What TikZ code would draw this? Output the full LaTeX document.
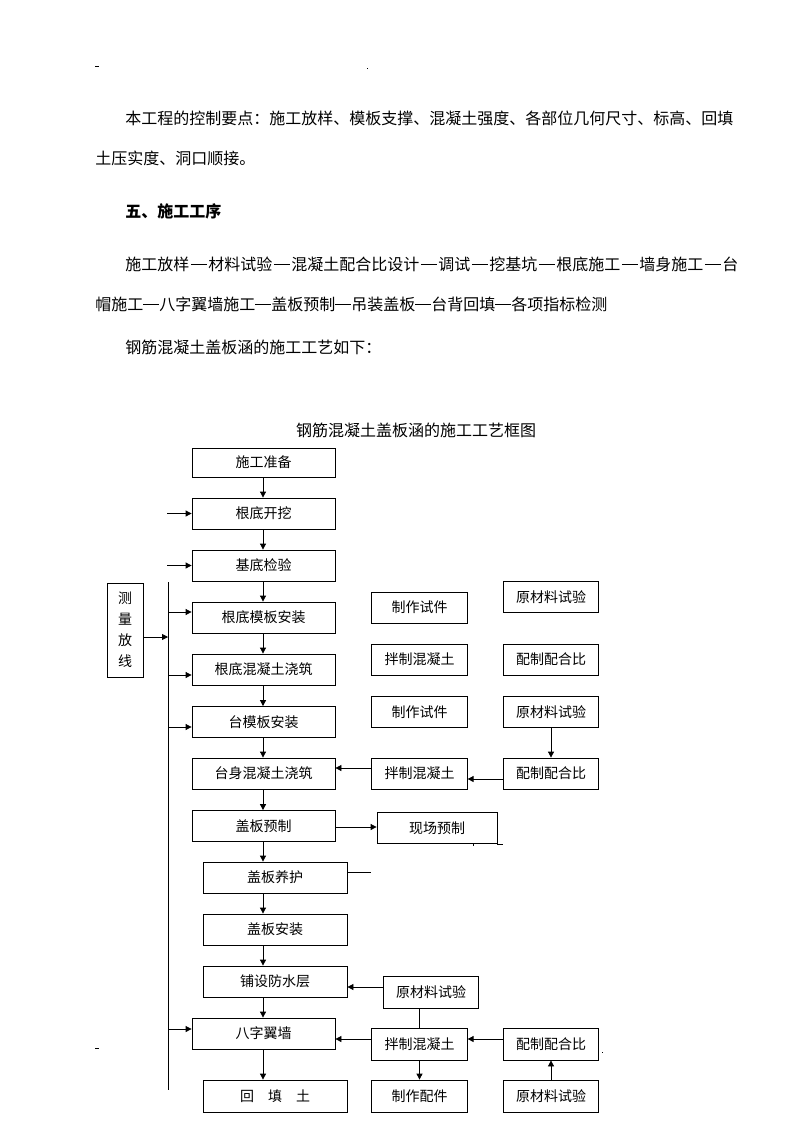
\documentclass[tikz,border=0pt]{standalone}
\usepackage{fontspec}
\setmainfont{Noto Sans CJK SC}
\usetikzlibrary{arrows.meta,positioning,calc}

\newcommand\zdash{\rule[0.33em]{1em}{0.055em}}

\tikzset{
  box/.style={draw, line width=0.6pt, inner sep=0pt, minimum height=23.25pt,
    font=\fontsize{10.5pt}{12pt}\selectfont},
  wide/.style={box, minimum width=107.25pt},
  shifted/.style={box, minimum width=108pt},
  side/.style={box, minimum width=71.6pt},
  flow/.style={-{Triangle[length=4.5pt,width=4.5pt]}, line width=0.6pt},
  plain/.style={line width=0.6pt},
  body/.style={anchor=west, inner sep=0pt, font=\fontsize{12pt}{14pt}\selectfont},
}

\begin{document}
\begin{tikzpicture}[x=0.75pt,y=-0.75pt]
        \useasboundingbox (0,0) rectangle (794,1123);

        % page marks
        \draw[plain] (95,66) -- (99,66);
        \draw[plain] (367,68) -- (368,68);
        \draw[plain] (95,1048) -- (99,1048);
        \draw[plain] (602,1052) -- (603,1052);

        % body text
        \node[body] (p1) at (125,118) {本工程的控制要点：施工放样、模板支撑、混凝土强度、各部位几何尺寸、标高、回填};
        \node[body] (p2) at (95,158) {土压实度、洞口顺接。};
        \node[body, font=\fontsize{12pt}{14pt}\selectfont\bfseries] (h5) at (125,211) {五、施工工序};
        \node[body] (p3) at (125,264) {\hbox to 459.75pt{施工放样\hfil\zdash\hfil 材料试验\hfil\zdash\hfil 混凝土配合比设计\hfil\zdash\hfil 调试\hfil\zdash\hfil 挖基坑\hfil\zdash\hfil 根底施工\hfil\zdash\hfil 墙身施工\hfil\zdash\hfil 台}};
        \node[body] (p4) at (95,304) {帽施工\zdash 八字翼墙施工\zdash 盖板预制\zdash 吊装盖板\zdash 台背回填\zdash 各项指标检测};
        \node[body] (p5) at (125,347) {钢筋混凝土盖板涵的施工工艺如下：};
        \node[inner sep=0pt, font=\fontsize{12pt}{14pt}\selectfont] (title) at (416,430) {钢筋混凝土盖板涵的施工工艺框图};

        % main column
        \node[wide, minimum height=21.75pt] (zb) at (263.5,462.5) {施工准备};
        \node[wide] (kw) at (263.5,513.5) {根底开挖};
        \node[wide] (jy) at (263.5,565.5) {基底检验};
        \node[wide] (mb) at (263.5,617.5) {根底模板安装};
        \node[wide] (gj) at (263.5,669.5) {根底混凝土浇筑};
        \node[wide] (tm) at (263.5,722) {台模板安装};
        \node[wide] (ts) at (263.5,773.5) {台身混凝土浇筑};
        \node[wide] (yz) at (263.5,826) {盖板预制};
        \node[shifted] (yh) at (275,877.5) {盖板养护};
        \node[shifted] (az) at (275,929.5) {盖板安装};
        \node[shifted] (fs) at (275,981.5) {铺设防水层};
        \node[wide] (yq) at (263.5,1033.5) {八字翼墙};
        \node[shifted, minimum height=24pt] (ht) at (275,1096) {回　填　土};

        % survey box
        \node[box, minimum width=27pt, minimum height=70.5pt, align=center,
              font=\fontsize{10.5pt}{15.75pt}\selectfont] (cl) at (125,630) {测\\量\\放\\线};

        % side columns
        \node[side] (sj1) at (419.5,607.5) {制作试件};
        \node[side] (ycl1) at (551,597) {原材料试验};
        \node[side] (bz1) at (419.5,659.5) {拌制混凝土};
        \node[side] (pb1) at (551,659.5) {配制配合比};
        \node[side] (sj2) at (419.5,712) {制作试件};
        \node[side] (ycl2) at (551,712) {原材料试验};
        \node[side] (bz2) at (419.5,773.5) {拌制混凝土};
        \node[side] (pb2) at (551,773.5) {配制配合比};
        \node[box, minimum width=90pt] (xc) at (437,828) {现场预制};
        \node[side, minimum height=24pt] (ycl3) at (431,992) {原材料试验};
        \node[side, minimum height=24pt] (bz3) at (419.5,1044) {拌制混凝土};
        \node[side, minimum height=24pt] (pb3) at (551,1044) {配制配合比};
        \node[side, minimum height=24pt] (pj) at (419.5,1096) {制作配件};
        \node[side, minimum height=24pt] (ycl4) at (551,1096) {原材料试验};

        % spine arrows
        \coordinate (spine) at (263,0);
        \foreach \a/\b in {zb/kw,kw/jy,jy/mb,mb/gj,gj/tm,tm/ts,ts/yz,yz/yh,yh/az,az/fs,fs/yq,yq/ht}
            \draw[flow] (\a.south -| spine) -- (\b.north -| spine);

        % inputs from the left
        \coordinate (in1) at (167,513.5);
        \coordinate (in2) at (167,565.5);
        \draw[flow] (in1) -- (kw.west);
        \draw[flow] (in2) -- (jy.west);

        % survey bus
        \coordinate (bustop) at (168,582);
        \coordinate (busend) at (168,1090);
        \draw[plain] (bustop) -- (busend);
        \draw[flow] (cl.east |- 0,637) -- (bustop |- 0,637);
        \foreach \b/\y in {mb/612,gj/675,tm/727,yq/1029}
            \draw[flow] (bustop |- 0,\y) -- (\b.west |- 0,\y);

        % concrete for the abutment
        \draw[flow] (ycl2.south) -- (pb2.north);
        \draw[flow] (pb2.west |- 0,779) -- (bz2.east |- 0,779);
        \draw[flow] (bz2.west |- 0,768) -- (ts.east |- 0,768);

        % cover slab
        \draw[flow] (yz.east |- 0,827) -- (xc.west |- 0,827);
        \draw[plain] (xc.south east) -- ++(6,0);
        \draw[plain] (473,843) -- (473,846);
        \coordinate (yhend) at (371,872);
        \draw[plain] (yh.east |- yhend) -- (yhend);

        % waterproofing and wing walls
        \draw[flow] (ycl3.west |- 0,987) -- (fs.east |- 0,987);
        \draw[plain] (bz3.north |- ycl3.south) -- (bz3.north);
        \draw[flow] (bz3.west |- 0,1039) -- (yq.east |- 0,1039);
        \draw[flow] (pb3.west |- 0,1039) -- (bz3.east |- 0,1039);
        \draw[flow] (bz3.south) -- (pj.north);
        \draw[flow] (ycl4.north) -- (pb3.south);
\end{tikzpicture}
\end{document}
